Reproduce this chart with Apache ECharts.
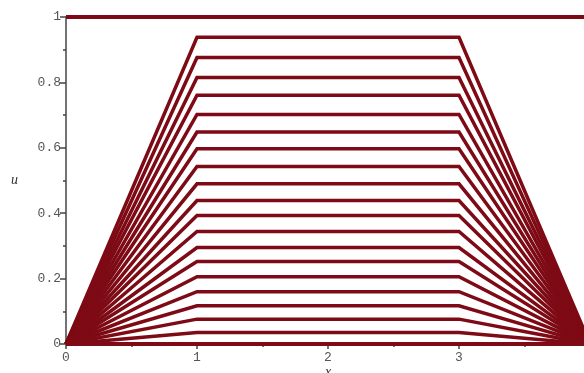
<!DOCTYPE html>
<html>
<head>
<meta charset="utf-8">
<script src="https://cdn.jsdelivr.net/npm/echarts@6/dist/echarts.min.js"></script>
<style>html,body{margin:0;padding:0;background:#fff;}#c{width:584px;height:373px;}</style>
</head>
<body>
<div id="c"></div>
<script>
// x positions of the profile knots
const xKnots = [0, 1, 3, 4];
// u values at each knot, one row per plotted curve
const uRows = [
  [1, 1, 1, 1],
  [0, 0.938, 0.938, 0],
  [0, 0.876, 0.876, 0],
  [0, 0.815, 0.815, 0],
  [0, 0.761, 0.761, 0],
  [0, 0.702, 0.702, 0],
  [0, 0.648, 0.648, 0],
  [0, 0.597, 0.597, 0],
  [0, 0.543, 0.543, 0],
  [0, 0.490, 0.490, 0],
  [0, 0.439, 0.439, 0],
  [0, 0.393, 0.393, 0],
  [0, 0.344, 0.344, 0],
  [0, 0.295, 0.295, 0],
  [0, 0.252, 0.252, 0],
  [0, 0.206, 0.206, 0],
  [0, 0.160, 0.160, 0],
  [0, 0.117, 0.117, 0],
  [0, 0.076, 0.076, 0],
  [0, 0.035, 0.035, 0],
  [0, 0, 0, 0]
];
const xTicks = ['0', '1', '2', '3', '4'];
const yTicks = ['0', '0.2', '0.4', '0.6', '0.8', '1'];

const lineColor = '#7d0a14';
const series = uRows.map((row, i) => ({
  type: 'line',
  data: row.map((u, j) => [xKnots[j], u]),
  symbol: 'none',
  clip: false,
  silent: true,
  lineStyle: { color: lineColor, width: (i === 0 || i === uRows.length - 1) ? 4 : 3.5, join: 'miter' },
  z: 3
}));

const chart = echarts.init(document.getElementById('c'), null, { renderer: 'canvas' });
chart.setOption({
  animation: false,
  backgroundColor: '#fff',
  grid: { left: 66, right: -6, top: 17, bottom: 29, containLabel: false, outerBoundsMode: 'none' },
  xAxis: {
    type: 'value', min: 0, max: 4, interval: 1,
    name: 'x', nameLocation: 'middle', nameGap: 21, nameMoveOverlap: false,
    nameTextStyle: { fontFamily: 'Liberation Serif', fontStyle: 'italic', fontSize: 14, color: '#333' },
    axisLine: { show: true, lineStyle: { color: '#444', width: 1.5 } },
    axisTick: { show: true, length: 5, lineStyle: { color: '#444', width: 1.5 } },
    minorTick: { show: true, splitNumber: 2, length: 3, lineStyle: { color: '#444', width: 1.5 } },
    splitLine: { show: false },
    axisLabel: {
      margin: 7, fontFamily: 'Liberation Mono', fontSize: 13, color: '#555',
      formatter: v => xTicks[Math.round(v)]
    }
  },
  yAxis: {
    type: 'value', min: 0, max: 1, interval: 0.2,
    name: 'u', nameLocation: 'middle', nameGap: 48, nameRotate: 0, nameMoveOverlap: false,
    nameTextStyle: { fontFamily: 'Liberation Serif', fontStyle: 'italic', fontSize: 14, color: '#333' },
    axisLine: { show: true, lineStyle: { color: '#444', width: 1.5 } },
    axisTick: { show: true, length: 6, lineStyle: { color: '#444', width: 1.5 } },
    minorTick: { show: true, splitNumber: 2, length: 3, lineStyle: { color: '#444', width: 1.5 } },
    splitLine: { show: false },
    axisLabel: {
      margin: 5, fontFamily: 'Liberation Mono', fontSize: 13, color: '#555',
      formatter: v => yTicks[Math.round(v * 5)]
    }
  },
  series: series
});
</script>
</body>
</html>
